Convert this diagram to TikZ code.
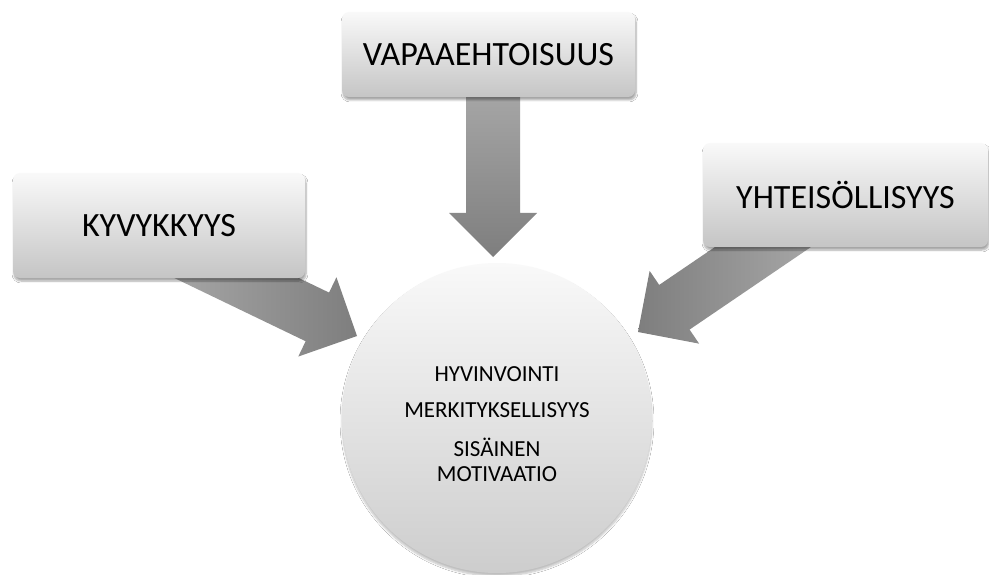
\documentclass[tikz,border=0pt]{standalone}
\usepackage{fontspec}
\setmainfont{Carlito}
\usetikzlibrary{calc,shadows.blur}
\definecolor{boxtop}{HTML}{F9F9F9}
\definecolor{boxbot}{HTML}{C5C5C5}
\definecolor{circtop}{HTML}{F9F9F9}
\definecolor{circbot}{HTML}{CDCDCD}
\definecolor{arrlight}{HTML}{A9A9A9}
\definecolor{arrdark}{HTML}{7E7E7E}
\newcommand\blockarrow[3]{%
  \path ($(#2)!44pt!(#1)$) coordinate (ab);
  \shade[#3] ($(#1)!27pt!90:(#2)$) -- ($(ab)!27pt!90:(#2)$) -- ($(ab)!44pt!90:(#2)$) -- (#2)
    -- ($(ab)!44pt!-90:(#2)$) -- ($(ab)!27pt!-90:(#2)$) -- ($(#1)!27pt!-90:(#2)$) -- cycle;}
\begin{document}
\begin{tikzpicture}[x=1pt,y=-1pt,
  box/.style={rectangle, rounded corners=7pt, top color=boxtop, bottom color=boxbot,
    blur shadow={shadow xshift=1pt, shadow yshift=-3pt, shadow opacity=35, shadow blur steps=6},
    font=\fontsize{34}{40}\selectfont, inner sep=0pt},
  circ/.style={circle, minimum size=310pt, inner sep=0pt, top color=circtop, bottom color=circbot,
    blur shadow={shadow xshift=0pt, shadow yshift=-3pt, shadow opacity=25, shadow blur steps=6},
    font=\fontsize{23}{25}\selectfont, align=center}]
\useasboundingbox[fill=white] (0,0) rectangle (989,575);
% arrow end points
\coordinate (ks) at (168,245);
\coordinate (kt) at (357,336);
\coordinate (vs) at (493,80);
\coordinate (vt) at (493,257);
\coordinate (ys) at (810,215);
\coordinate (yt) at (638,332);
% block arrows
\blockarrow{ks}{kt}{left color=arrlight, right color=arrdark}
\blockarrow{vs}{vt}{top color=arrlight, bottom color=arrdark}
\blockarrow{ys}{yt}{right color=arrlight, left color=arrdark}
% boxes
\node[box, minimum width=292pt, minimum height=105pt] (k) at (159,225.5) {KYVYKKYYS};
\node[box, minimum width=293pt, minimum height=85pt] (v) at (488.5,54.5) {VAPAAEHTOISUUS};
\node[box, minimum width=285pt, minimum height=104pt] (y) at (845.5,195) {YHTEISÖLLISYYS};
% circle
\node[circ] (c) at (497,418) {\rule{0pt}{27pt}HYVINVOINTI\\[11pt]MERKITYKSELLISYYS\\[14pt]SISÄINEN\\MOTIVAATIO};
\end{tikzpicture}
\end{document}
